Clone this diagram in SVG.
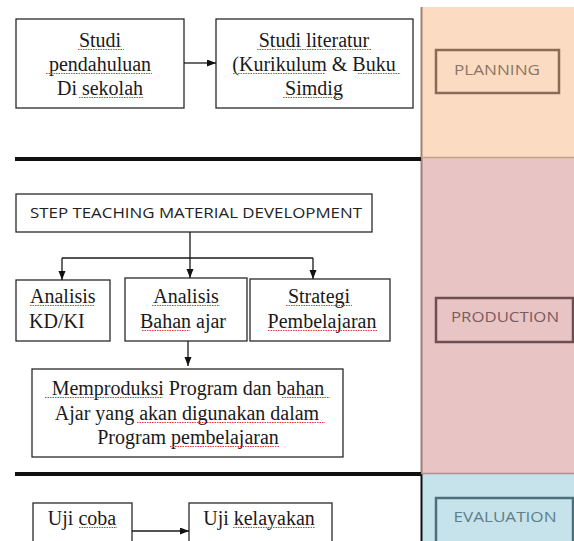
<svg xmlns="http://www.w3.org/2000/svg" width="574" height="541" viewBox="0 0 574 541">
<style>
.box{fill:#fff;stroke:#2a2a2a;stroke-width:1.3}
.t{font-family:"Liberation Serif","Times New Roman",serif;font-size:20px;fill:#1a1a1a;text-anchor:middle}
.s{font-family:"Open Sans","Liberation Sans",Arial,sans-serif;fill:#222;text-anchor:middle}
.c{fill:none;stroke:#1a1a1a;stroke-width:1.3}
.sep{stroke:#111;stroke-width:4}
.sq{fill:none;stroke:#e03a3a;stroke-width:1;stroke-dasharray:1.5 1}
.lbl{font-family:"Open Sans","Liberation Sans",Arial,sans-serif;font-size:14px;text-anchor:middle}
</style>
<defs>
<marker id="arr" markerUnits="userSpaceOnUse" markerWidth="10" markerHeight="8" refX="9" refY="3.5" orient="auto">
<path d="M0,0 L9,3.5 L0,7 z" fill="#111"/>
</marker>
</defs>
<rect width="574" height="541" fill="#fff"/>

<g id="phase-column">
<rect x="421" y="7" width="153" height="151" fill="#FBDCC3"/>
<rect x="421" y="158" width="153" height="316" fill="#E8C4C4"/>
<rect x="421" y="474" width="153" height="67" fill="#C6E2EB"/>
<line x1="421.5" y1="7" x2="421.5" y2="158" stroke="#A3836A" stroke-width="2"/>
<line x1="421.5" y1="158" x2="421.5" y2="474" stroke="#A27C7E" stroke-width="2"/>
<line x1="421.5" y1="474" x2="421.5" y2="541" stroke="#111" stroke-width="2"/>
<line x1="421" y1="157.5" x2="574" y2="157.5" stroke="#C2A286" stroke-width="1.5"/>
<line x1="421" y1="473.5" x2="574" y2="473.5" stroke="#B28C8E" stroke-width="1.5"/>
</g>

<g id="planning">
<rect x="436" y="50" width="123" height="43" fill="none" stroke="#8B6B52" stroke-width="2.5"/>
<text class="lbl" x="497" y="75" fill="#8C7462" textLength="86" lengthAdjust="spacingAndGlyphs">PLANNING</text>
</g>
<g id="production">
<rect x="436" y="298" width="137" height="44" fill="none" stroke="#6E4E50" stroke-width="2.5"/>
<text class="lbl" x="505" y="322" fill="#7A5C5E" textLength="108" lengthAdjust="spacingAndGlyphs">PRODUCTION</text>
</g>
<g id="evaluation">
<rect x="436" y="498" width="137" height="50" fill="none" stroke="#4D707A" stroke-width="2.5"/>
<text class="lbl" x="505" y="522" fill="#5E7F89" textLength="103" lengthAdjust="spacingAndGlyphs">EVALUATION</text>
</g>

<g id="separators">
<line class="sep" x1="15" y1="159" x2="421" y2="159"/>
<line class="sep" x1="15" y1="474" x2="421" y2="474"/>
</g>

<g id="studi-pendahuluan">
<rect class="box" x="16" y="19" width="168" height="89"/>
<text class="t" x="100" y="47">Studi</text>
<text class="t" x="100" y="71">pendahuluan</text>
<text class="t" x="100" y="95">Di sekolah</text>
</g>
<g id="studi-literatur">
<rect class="box" x="216" y="19" width="197" height="89"/>
<text class="t" x="314" y="47">Studi literatur</text>
<text class="t" x="314" y="71">(Kurikulum &amp; Buku</text>
<text class="t" x="314" y="95">Simdig</text>
</g>
<g id="step">
<rect class="box" x="16" y="194" width="356" height="38"/>
<text class="s" x="196" y="218" font-size="14" textLength="332" lengthAdjust="spacingAndGlyphs">STEP TEACHING MATERIAL DEVELOPMENT</text>
</g>
<g id="analisis-kd">
<rect class="box" x="16" y="280" width="94" height="61"/>
<text class="t" x="30" y="303" style="text-anchor:start">Analisis</text>
<text class="t" x="29" y="328" style="text-anchor:start">KD/KI</text>
</g>
<g id="analisis-bahan">
<rect class="box" x="125" y="278" width="122" height="63"/>
<text class="t" x="186" y="303">Analisis</text>
<text class="t" x="183" y="328">Bahan ajar</text>
</g>
<g id="strategi">
<rect class="box" x="250" y="279" width="140" height="62"/>
<text class="t" x="319" y="303">Strategi</text>
<text class="t" x="322" y="328">Pembelajaran</text>
</g>
<g id="memproduksi">
<rect class="box" x="32" y="369" width="311" height="88"/>
<text class="t" x="188" y="395">Memproduksi Program dan bahan</text>
<text class="t" x="187" y="420">Ajar yang akan digunakan dalam</text>
<text class="t" x="188" y="444">Program pembelajaran</text>
</g>
<g id="uji-coba">
<rect class="box" x="33" y="503" width="99" height="45"/>
<text class="t" x="82" y="525">Uji coba</text>
</g>
<g id="uji-kelayakan">
<rect class="box" x="189" y="503" width="143" height="45"/>
<text class="t" x="259" y="525">Uji kelayakan</text>
</g>

<g id="connectors">
<line class="c" x1="184" y1="63" x2="216" y2="63" marker-end="url(#arr)"/>
<line class="c" x1="190" y1="232" x2="190" y2="278" marker-end="url(#arr)"/>
<line class="c" x1="62" y1="258" x2="313" y2="258"/>
<line class="c" x1="62" y1="258" x2="62" y2="280" marker-end="url(#arr)"/>
<line class="c" x1="313" y1="258" x2="313" y2="279" marker-end="url(#arr)"/>
<line class="c" x1="188" y1="341" x2="188" y2="366" marker-end="url(#arr)"/>
<line class="c" x1="132" y1="531" x2="189" y2="531" marker-end="url(#arr)"/>
</g>

<g id="spellcheck">
<path class="sq" d="M78,49.5H124 M46,73.5H152 M79,97.5H143 M257,49.5H371 M233,73.5H325 M358,73.5H400 M283,97.5H343 M30,305.5H95 M152,305.5H220 M142,330.5H190 M286,305.5H352 M268,330.5H377 M45,397.5H163 M282,397.5H330 M137,422.5H325 M170,446.5H280 M79,527.5H117 M233,527.5H315"/>
</g>
</svg>
